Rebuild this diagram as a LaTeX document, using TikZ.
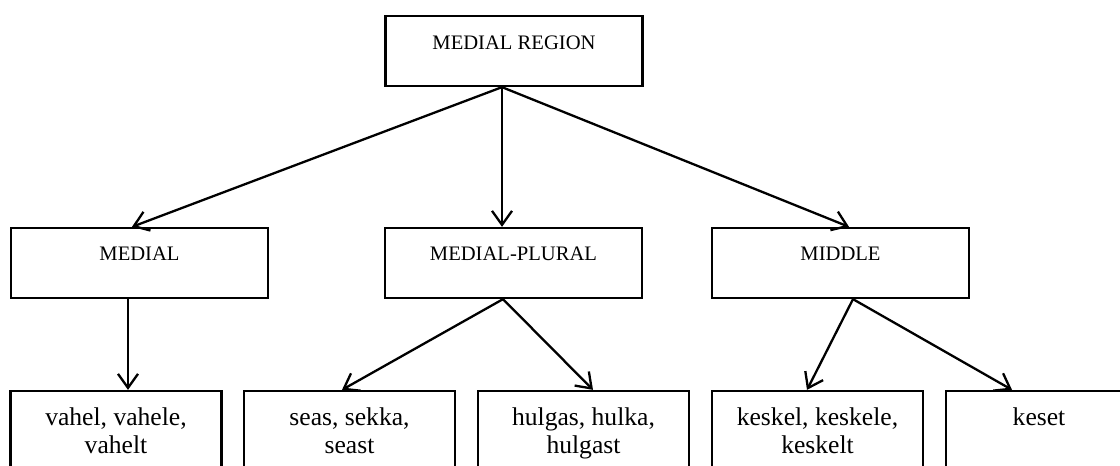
\documentclass[tikz,border=0pt]{standalone}
\usepackage{fontspec}
\setmainfont{Liberation Serif}
\usetikzlibrary{arrows.meta}
\tikzset{
  box/.style={draw=black, line width=1.15pt, rectangle, inner sep=0pt,
              minimum width=128.5pt, minimum height=35pt},
  leaf/.style={draw=black, line width=1.15pt, rectangle, inner sep=0pt,
               minimum width=105.5pt, minimum height=60pt},
  caption/.style={anchor=base, inner sep=0pt, font=\fontsize{10.3pt}{12pt}\selectfont},
  words/.style={anchor=base, inner sep=0pt, align=center,
                font=\fontsize{12.8pt}{14pt}\selectfont},
  link/.style={line width=1.15pt, -{Straight Barb[length=7pt,width=10pt,line width=1.15pt]}}
}
\begin{document}
\begin{tikzpicture}[x=0.5pt,y=-0.5pt]
\clip (0,0) rectangle (1120,466);
\fill[white] (0,0) rectangle (1120,466);

% top level
\node[box] (region) at (514,51) {};
\node[caption] (regiont) at ([yshift=-17.5pt]region.north) {MEDIAL REGION};

% second level
\node[box] (medial) at (139.5,263) {};
\node[box] (plural) at (513.5,263) {};
\node[box] (middle) at (840.5,263) {};
\node[caption] (medialt) at ([yshift=-17pt]medial.north) {MEDIAL};
\node[caption] (pluralt) at ([yshift=-17pt]plural.north) {MEDIAL-PLURAL};
\node[caption] (middlet) at ([yshift=-17pt]middle.north) {MIDDLE};

% word forms (the base of a two-line node is its last line)
\node[leaf] (vahel)  at (116,451) {};
\node[leaf] (seas)   at (349.5,451) {};
\node[leaf] (hulgas) at (583.5,451) {};
\node[leaf] (keskel) at (817.5,451) {};
\node[leaf] (keset)  at (1051.5,451) {};
\node[words] (vahelt)  at ([yshift=-32pt]vahel.north)  {vahel, vahele,\\vahelt};
\node[words] (seast)   at ([yshift=-32pt]seas.north)   {seas, sekka,\\seast};
\node[words] (hulgast) at ([yshift=-32pt]hulgas.north) {hulgas, hulka,\\hulgast};
\node[words] (keskelt) at ([yshift=-32pt]keskel.north) {keskel, keskele,\\keskelt};
\node[words] (kesett)  at ([xshift=-6.25pt,yshift=-18pt]keset.north) {keset};

% connectors
\draw[link] ([xshift=-6pt]region.south) -- ([xshift=-3.75pt]medial.north);
\draw[link] ([xshift=-6pt]region.south) -- ([xshift=-5.75pt]plural.north);
\draw[link] ([xshift=-6pt]region.south) -- ([xshift=4.25pt]middle.north);

\draw[link] ([xshift=-5.75pt]medial.south) -- ([xshift=6pt]vahel.north);
\draw[link] ([xshift=-5.25pt]plural.south) -- ([xshift=-3.75pt]seas.north);
\draw[link] ([xshift=-5.25pt]plural.south) -- ([xshift=4.75pt]hulgas.north);
\draw[link] ([xshift=6.25pt]middle.south) -- ([xshift=-5.25pt]keskel.north);
\draw[link] ([xshift=6.25pt]middle.south) -- ([xshift=-19.75pt]keset.north);
\end{tikzpicture}
\end{document}
